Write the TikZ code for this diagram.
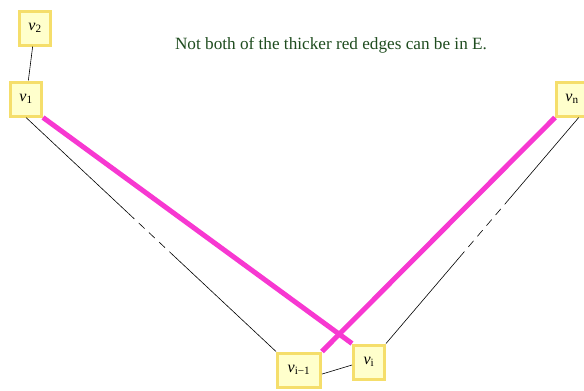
\documentclass[tikz,border=0pt]{standalone}
\usepackage{fontspec}
\setmainfont{Liberation Serif}
\usepackage{xcolor}
\usetikzlibrary{calc}
\definecolor{boxfill}{rgb}{1.00,1.00,0.80}
\definecolor{boxline}{rgb}{0.96,0.87,0.42}
\definecolor{hotpink}{rgb}{0.97,0.22,0.82}
\definecolor{notegreen}{rgb}{0.12,0.30,0.12}

\tikzset{
  vbox/.style={draw=boxline,fill=boxfill,line width=3pt,minimum width=31pt,
    minimum height=34pt,inner sep=3pt,font=\fontsize{16}{18}\selectfont},
  thinedge/.style={black,line width=0.6pt},
  redge/.style={hotpink,line width=5pt},
  gapedge/.style={thinedge,dash pattern=on 8pt off 6pt}
}

\begin{document}
\begin{tikzpicture}[x=1pt,y=-1pt]
  \useasboundingbox (0,0) rectangle (584,391);
  % vertices (pixel positions, y downwards)
  \node[vbox] (v2)  at (35,28)  {\textit{v}\textsubscript{2}};
  \node[vbox] (v1)  at (26,99)  {\textit{v}\textsubscript{1}};
  \node[vbox] (vn)  at (572,99) {\textit{v}\textsubscript{n}};
  \node[vbox,minimum width=43pt] (vi1) at (299,370) {\textit{v}\textsubscript{i−1}};
  \node[vbox] (vi)  at (369,362) {\textit{v}\textsubscript{i}};
  % note
  \node[notegreen,font=\fontsize{17.2}{19}\selectfont] (note) at (331,45)
    {Not both of the thicker red edges can be in E.};
  % thin edges, with a broken middle part
  \draw[thinedge] (v2) -- (v1);
  \draw[thinedge] (vi1.-10) -- (vi.-170);
  \coordinate (p1) at ($(v1.south)!0.41!(vi1.north west)$);
  \coordinate (p2) at ($(v1.south)!0.58!(vi1.north west)$);
  \draw[thinedge] (v1.south) -- (p1);
  \draw[gapedge]  (p1) -- (p2);
  \draw[thinedge] (p2) -- (vi1.north west);
  \coordinate (q1) at ($(vi.north east)!0.38!(vn.-70)$);
  \coordinate (q2) at ($(vi.north east)!0.63!(vn.-70)$);
  \draw[thinedge] (vi.north east) -- (q1);
  \draw[gapedge]  (q1) -- (q2);
  \draw[thinedge] (q2) -- (vn.-70);
  % the two thick red edges
  \draw[redge] (v1.south east) -- (vi.north west);
  \draw[redge] (vi1.north east) -- (vn.south west);
\end{tikzpicture}
\end{document}
